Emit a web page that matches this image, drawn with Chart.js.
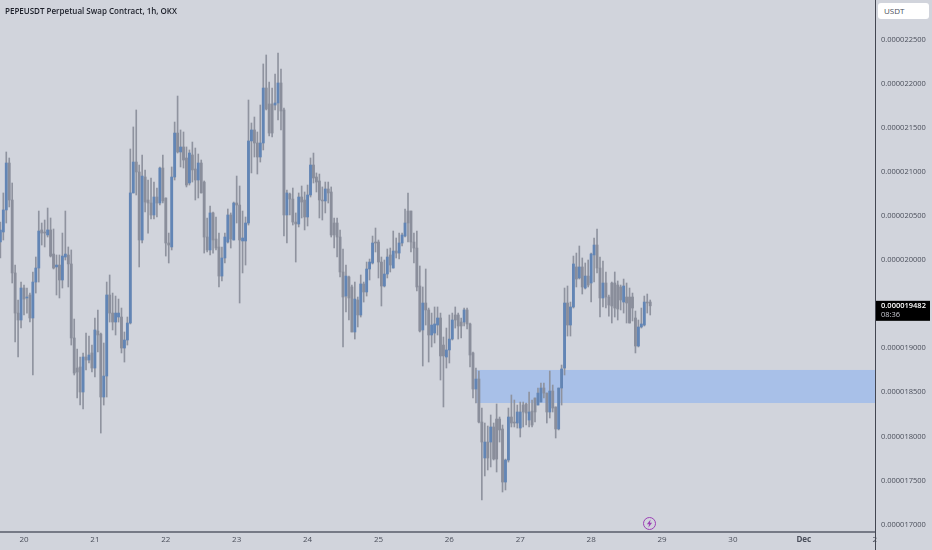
<!DOCTYPE html>
<html lang="en">
<head>
  <meta charset="UTF-8" />
  <title>PEPEUSDT Perpetual Swap Contract</title>
  <script src="https://cdn.jsdelivr.net/npm/chart.js"></script>
  <style>
    body { margin: 0; background: #d1d4dc; font-family: "Open Sans", sans-serif; }
    #wrap { position: relative; width: 932px; height: 550px; overflow: hidden; }
    canvas { display: block; }
    /* Symbol line, top left */
    #symbol { position: absolute; left: 5px; top: 5px; font-size: 8px; font-weight: 600; color: #1c1f29; white-space: nowrap; }
    /* Currency button above the price axis */
    #currency { position: absolute; left: 878px; top: 3px; width: 51px; height: 16px; background: #fff; border-radius: 3px;
      font-size: 8px; line-height: 16px; color: #4a4e5a; text-indent: 6px; }
    /* Purple lightning marker */
    #marker { position: absolute; left: 643px; top: 517px; width: 11px; height: 11px; border: 1px solid #9c3fb5; border-radius: 50%; }
    #marker svg { display: block; }
  </style>
</head>
<body>
  <div id="wrap">
    <canvas id="candles" width="932" height="550"></canvas>
    <div id="symbol">PEPEUSDT Perpetual Swap Contract, 1h, OKX</div>
    <div id="currency">USDT</div>
    <div id="marker">
      <svg width="11" height="11" viewBox="0 0 11 11"><path d="M6.6 1.4 2.9 6.2h2.2l-.7 3.4 3.7-4.8H5.9z" fill="#9c3fb5"/></svg>
    </div>
  </div>

  <script>
    // Hourly candles, prices in units of 1e-9 USDT, first candle is 8 hours before the "20" tick
    const opens = [20206,20320,20570,21103,20683,19855,19400,19321,19684,19571,19605,19344,19752,19911,20343,20320,20286,20343,20070,19923,19945,19775,20036,20059,19957,19117,18776,18788,18504,18901,18867,18947,18776,19196,19162,18447,18685,19605,19400,19298,19355,19355,19003,19094,
      19287,20763,21114,21001,20229,20944,20683,20649,20513,20717,20649,21046,20706,20195,20150,20944,21443,21228,21285,21160,20876,21194,21035,20910,21103,20887,20263,20116,20536,20240,20150,19820,20025,20206,20513,20229,20649,20626,20218,20218,20422,21353,21478,21330,
      21171,21330,21954,21773,21773,21761,21784,22011,21705,20513,20751,20694,20433,20411,20717,20683,20490,20740,21080,20944,20899,20683,20672,20808,20774,20422,20422,20263,19866,19593,19809,19696,19185,19548,19378,19730,19639,19900,19968,20206,20206,19979,19707,19843,
      20059,19911,20104,20081,20195,20274,20558,20558,20206,20138,19707,19208,19514,19435,19151,19173,19264,19344,19037,18901,18981,19105,19378,19378,19298,19298,19435,19276,18947,18538,18651,18163,17755,17936,17936,18107,18197,18197,18084,17482,17732,18220,18163,18152,
      18095,18356,18368,18186,18288,18436,18356,18390,18549,18492,18277,18515,18334,18084,18549,18776,19514,19264,19469,19923,19798,19923,19684,19820,19741,20059,20172,19911,19571,19741,19582,19741,19741,19718,19696,19525,19582,19582,19582,19344,19026,19242,19264,19525,19525];
    const closes = [20343,20570,21103,20683,19855,19400,19321,19684,19559,19582,19344,19752,19911,20331,20308,20308,20343,20047,19911,19945,19775,20047,20070,19957,19117,18719,18731,18504,18901,18867,18924,18776,19208,19151,18447,18685,19605,19400,19298,19400,19400,19003,19094,19287,
      20763,21114,21001,20229,20955,20660,20649,20513,20717,20649,21046,20672,20195,20172,20944,21443,21228,21285,21137,20853,21216,21024,20910,21103,20763,20263,20116,20536,20229,20138,19820,20025,20263,20513,20240,20649,20626,20229,20252,20422,21353,21478,21330,21171,
      21330,21954,21716,21443,21443,21784,22011,21693,20513,20763,20694,20433,20411,20717,20660,20490,20740,21080,20933,20887,20683,20672,20808,20763,20286,20286,20263,19866,19582,19820,19571,19185,19559,19378,19730,19639,19900,19979,20195,20195,19979,19707,19843,20036,
      19945,20104,20081,20195,20286,20422,20422,20206,20138,19696,19196,19514,19435,19151,19264,19276,19344,18913,18913,18981,19105,19321,19321,19253,19253,19435,19276,18924,18538,18651,18163,17936,17936,17755,18107,17743,17743,18073,17482,17732,18220,18152,18152,18277,
      18277,18277,18265,18277,18129,18277,18492,18549,18492,18277,18515,18322,18084,18549,18765,19514,19264,19469,19957,19786,19923,19696,19820,19718,20070,20172,19911,19571,19741,19582,19491,19480,19457,19446,19548,19707,19514,19287,19457,19026,19242,19276,19525,19514,19482];
    const highs = [20433,20763,21228,21160,20876,19945,19548,19752,19718,19684,19627,19866,20036,20558,20422,20456,20592,20479,20354,20059,20059,20308,20558,20150,20116,19332,18992,18901,18947,19173,19139,19037,19344,19435,19173,19060,19752,19832,19627,19593,19559,19457,19185,19355,
      21262,21512,21705,21080,21194,21024,20910,20933,20887,20819,21058,21194,20706,20308,21058,21568,21863,21478,21455,21285,21251,21341,21273,21205,21137,20899,20479,20615,20547,20490,20308,20150,20308,20581,20536,20660,20955,20842,20558,20490,21818,21557,21625,21455,
      21761,22227,22329,22022,21954,22113,22351,22170,21727,20797,20763,20819,20536,20763,20842,20774,20853,21160,21216,20990,20978,20831,20887,20887,20831,20479,20479,20343,20127,19945,19820,19718,19752,19582,19832,19752,19979,20013,20274,20365,20229,20036,20002,20127,
      20138,20331,20252,20308,20308,20581,20763,20558,20308,20331,19934,19696,19900,19457,19400,19469,19469,19400,19128,19230,19378,19400,19469,19400,19344,19457,19457,19287,18958,18776,18742,18322,18152,18118,18243,18152,18368,18220,18129,17743,18322,18470,18413,18356,
      18390,18390,18379,18504,18413,18436,18549,18606,18606,18492,18742,18583,18334,18549,18810,19684,19707,19525,20047,20081,20161,20025,19968,20002,20081,20252,20354,20036,19991,19866,19605,19752,19866,19764,19718,19786,19741,19684,19627,19423,19321,19457,19593,19616,19548];
    const lows = [20025,20229,20422,20604,19741,19071,18901,19230,19378,19400,19298,18697,19627,19752,20172,20150,20263,20036,19900,19605,19571,19684,20002,19696,19037,18697,18436,18356,18311,18754,18833,18731,18674,18958,18038,18356,18447,19298,19208,19151,19298,18947,18844,19037,
      19276,20763,20740,19923,20195,20547,20308,20467,20467,20490,20626,20649,20047,19968,20116,20910,21216,21058,21046,20831,20853,20887,20683,20706,20763,20081,20093,20059,20081,20116,19696,19764,19968,20195,20138,20229,20422,19514,19855,19945,20399,20990,21171,20978,
      21114,21251,21705,21409,21398,21705,21591,21478,20274,20195,20513,20399,19979,20377,20479,20343,20388,20717,20876,20774,20479,20456,20536,20649,20263,20138,20036,19809,19015,19412,19321,19185,19105,19242,19355,19525,19593,19775,19957,20093,19798,19480,19696,19798,
      19866,19911,20025,20013,20161,20263,20206,20093,19968,19650,19185,18799,19264,18844,19015,19060,19151,18640,18334,18776,18833,19094,19230,19105,19117,19253,19219,18788,18436,18379,18152,17278,17551,17619,17653,17732,17596,17936,17369,17392,17709,18107,18107,18095,
      17993,18107,18129,18107,18107,18163,18356,18390,18436,18152,18209,18277,17982,18073,18356,18697,19139,19139,19457,19696,19786,19616,19673,19696,19525,19752,19855,19355,19469,19457,19366,19287,19355,19321,19435,19400,19287,19287,19310,18947,19015,19230,19253,19400,19378];

    // Tick labels on the time axis, one per 24 hours starting at the "20" tick
    const dayLabels = ["20","21","22","23","24","25","26","27","28","29","30","Dec","2"];
    const dayHours = [0,24,48,72,96,120,144,168,192,216,240,264,288];
    const priceTicks = [17000,17500,18000,18500,19000,19500,20000,20500,21000,21500,22000,22500];

    // Price values of the blue zone and the hour it starts at
    const zoneTop = 18754;
    const zoneBottom = 18379;
    const zoneStartHour = 153;

    const lastPrice = closes[closes.length - 1];
    const countdown = "08:36";

    const formatPrice = v => (v / 1e9).toFixed(9);

    // Blue zone behind the candles
    const zonePlugin = {
      id: "zone",
      beforeDatasetsDraw(chart) {
        const { ctx, chartArea, scales } = chart;
        const left = scales.x.getPixelForValue(zoneStartHour);
        const top = scales.y.getPixelForValue(zoneTop);
        const bottom = scales.y.getPixelForValue(zoneBottom);
        ctx.save();
        ctx.fillStyle = "#a8c0e8";
        ctx.fillRect(left, top, chartArea.right - left, bottom - top);
        ctx.restore();
      }
    };

    // Last price box on the price axis
    const lastPricePlugin = {
      id: "lastPrice",
      afterDraw(chart) {
        const { ctx, chartArea, scales, height } = chart;
        const y = scales.y.getPixelForValue(lastPrice);
        ctx.save();
        // axis line runs on through the time labels
        ctx.strokeStyle = "#434651";
        ctx.lineWidth = 1;
        ctx.beginPath();
        ctx.moveTo(chartArea.right + 0.5, 0);
        ctx.lineTo(chartArea.right + 0.5, height);
        ctx.stroke();
        ctx.fillStyle = "#000";
        ctx.fillRect(chartArea.right + 1, y - 5, 54, 20);
        ctx.textBaseline = "middle";
        ctx.fillStyle = "#fff";
        ctx.font = "600 7.5px 'Open Sans'";
        ctx.fillText(formatPrice(lastPrice), chartArea.right + 6, y);
        ctx.fillStyle = "#c8cad2";
        ctx.font = "7.5px 'Open Sans'";
        ctx.fillText(countdown, chartArea.right + 6, y + 9.5);
        ctx.restore();
      }
    };

    const hours = opens.map((o, i) => i - 8);
    const wickData = hours.map((h, i) => ({ x: h, y: [lows[i], highs[i]] }));
    const bodyData = hours.map((h, i) => ({ x: h, y: [opens[i], closes[i]] }));
    const bodyColors = opens.map((o, i) => (closes[i] > opens[i] ? "#6285b5" : "#8a8e9b"));

    new Chart(document.getElementById("candles"), {
      type: "bar",
      data: {
        datasets: [
          { label: "Body", data: bodyData, backgroundColor: bodyColors, barThickness: 2.2, grouped: false },
          { label: "Wick", data: wickData, backgroundColor: "#8f939f", barThickness: 1, grouped: false }
        ]
      },
      options: {
        responsive: false,
        animation: false,
        layout: { padding: 0, autoPadding: false },
        plugins: { legend: { display: false }, tooltip: { enabled: false } },
        scales: {
          x: {
            type: "linear",
            offset: false,
            min: -8.125,
            max: 288.1,
            grid: { display: false, drawTicks: false },
            border: { color: "#767a86", width: 2 },
            afterFit(scale) { scale.height = 18; scale.paddingLeft = 0; scale.paddingRight = 0; },
            afterBuildTicks(scale) { scale.ticks = dayHours.map(v => ({ value: v })); },
            ticks: {
              autoSkip: false,
              maxRotation: 0,
              padding: 3,
              color: "#4a4e5a",
              font: ctx => ({ family: "'Open Sans'", size: 8, weight: ctx.tick && ctx.tick.value === 264 ? "700" : "400" }),
              callback: v => dayLabels[dayHours.indexOf(v)]
            }
          },
          y: {
            position: "right",
            min: 16915,
            max: 22953,
            grid: { display: false, drawTicks: false },
            border: { display: false },
            afterFit(scale) { scale.width = 57; scale.paddingTop = 0; scale.paddingBottom = 0; },
            afterBuildTicks(scale) { scale.ticks = priceTicks.map(v => ({ value: v })); },
            ticks: {
              autoSkip: false,
              padding: 6,
              color: "#4a4e5a",
              font: { family: "'Open Sans'", size: 7.5 },
              callback: v => formatPrice(v)
            }
          }
        }
      },
      plugins: [zonePlugin, lastPricePlugin]
    });
  </script>
</body>
</html>
